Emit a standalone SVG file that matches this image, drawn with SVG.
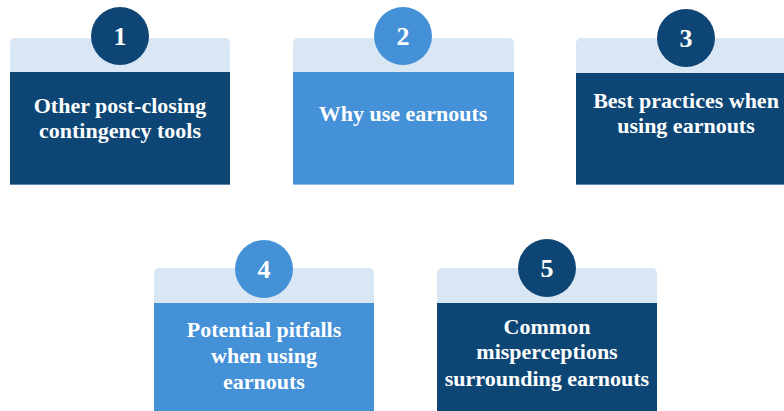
<svg xmlns="http://www.w3.org/2000/svg" width="784" height="411" viewBox="0 0 784 411">
  <defs>
    <style>
      .band { fill: #d9e7f5; }
      .dark { fill: #0d4674; }
      .mid { fill: #4591d7; }
      .edge-dark { fill: #5b88b3; }
      .edge-mid { fill: #8dbbe6; }
      .num { font-family: "Liberation Serif", "DejaVu Serif", serif; font-weight: bold; font-size: 26px; fill: #ffffff; text-anchor: middle; }
      .lbl { font-family: "Liberation Serif", "DejaVu Serif", serif; font-weight: bold; font-size: 22px; fill: #ffffff; text-anchor: middle; }
    </style>
  </defs>

  <!-- Step 1 -->
  <g id="node1">
    <path class="band" d="M10,43 a5,5 0 0 1 5,-5 h210 a5,5 0 0 1 5,5 v30 h-220 z"/>
    <rect class="dark" x="10" y="72" width="220" height="113"/>
    <rect class="edge-dark" x="10" y="184" width="220" height="1"/>
    <circle class="dark" cx="120" cy="36" r="29"/>
    <text class="num" x="120" y="45">1</text>
    <text class="lbl" x="120" y="113">Other post-closing</text>
    <text class="lbl" x="120" y="138">contingency tools</text>
  </g>

  <!-- Step 2 -->
  <g id="node2">
    <path class="band" d="M293,43 a5,5 0 0 1 5,-5 h211 a5,5 0 0 1 5,5 v30 h-221 z"/>
    <rect class="mid" x="293" y="72" width="221" height="113"/>
    <rect class="edge-mid" x="293" y="184" width="221" height="1"/>
    <circle class="mid" cx="403" cy="36" r="29"/>
    <text class="num" x="403" y="45">2</text>
    <text class="lbl" x="403" y="121">Why use earnouts</text>
  </g>

  <!-- Step 3 -->
  <g id="node3">
    <path class="band" d="M576,43 a5,5 0 0 1 5,-5 h210 a5,5 0 0 1 5,5 v30 h-220 z"/>
    <rect class="dark" x="576" y="73" width="220" height="112"/>
    <rect class="edge-dark" x="576" y="184" width="220" height="1"/>
    <circle class="dark" cx="686" cy="38" r="29"/>
    <text class="num" x="686" y="47">3</text>
    <text class="lbl" x="686" y="108">Best practices when</text>
    <text class="lbl" x="686" y="133">using earnouts</text>
  </g>

  <!-- Step 4 -->
  <g id="node4">
    <path class="band" d="M154,273 a5,5 0 0 1 5,-5 h210 a5,5 0 0 1 5,5 v30 h-220 z"/>
    <rect class="mid" x="154" y="303" width="220" height="108"/>
    <circle class="mid" cx="264" cy="269" r="29"/>
    <text class="num" x="264" y="278">4</text>
    <text class="lbl" x="264" y="337">Potential pitfalls</text>
    <text class="lbl" x="264" y="363">when using</text>
    <text class="lbl" x="264" y="389">earnouts</text>
  </g>

  <!-- Step 5 -->
  <g id="node5">
    <path class="band" d="M437,273 a5,5 0 0 1 5,-5 h210 a5,5 0 0 1 5,5 v30 h-220 z"/>
    <rect class="dark" x="437" y="303" width="220" height="108"/>
    <circle class="dark" cx="547" cy="268" r="29"/>
    <text class="num" x="547" y="277">5</text>
    <text class="lbl" x="547" y="334">Common</text>
    <text class="lbl" x="547" y="359">misperceptions</text>
    <text class="lbl" x="547" y="386">surrounding earnouts</text>
  </g>

  <g id="connectors"/>
</svg>
